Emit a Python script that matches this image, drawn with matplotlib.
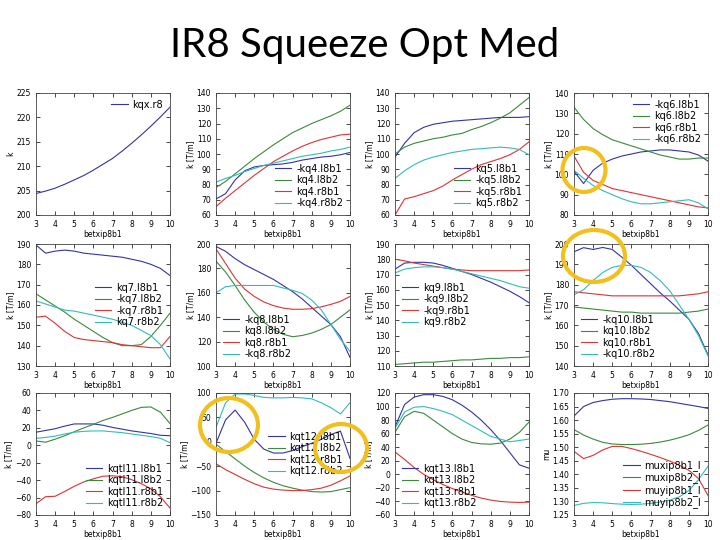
import matplotlib
matplotlib.use("Agg")
import matplotlib.pyplot as plt
from matplotlib.patches import Ellipse
from matplotlib.ticker import MultipleLocator

# betxip8b1 scan
betx = [3, 3.5, 4, 4.5, 5, 5.5, 6, 6.5, 7, 7.5, 8, 8.5, 9, 9.5, 10]

# kqx
kqx_r8 = [204.4, 204.9, 205.5, 206.3, 207.2, 208.1, 209.2, 210.4, 211.6, 213.1, 214.7, 216.4, 218.2, 220.1, 222.1]

# kq4
kq4_l8b1 = [70.5, 74, 83, 89, 91.5, 92.5, 93, 93.5, 94.5, 96, 97, 98, 98.5, 99.5, 101]
kq4_l8b2 = [78, 82, 87, 92, 97, 101.5, 106, 110, 114, 117, 120, 122.5, 125, 128, 132]
kq4_r8b1 = [65.5, 71, 76, 81, 86, 90.5, 95, 98.5, 102, 105, 107.5, 109.5, 111, 112.5, 113]
kq4_r8b2 = [81.5, 84, 86, 88.5, 90.5, 92.5, 94, 95.5, 97, 98.5, 99.5, 100.5, 102, 103, 104.5]

# kq5
kq5_l8b1 = [98, 107, 114, 117.5, 119.5, 120.5, 121.5, 122, 122.5, 123, 123.5, 124, 124, 124, 124.5]
kq5_l8b2 = [100, 104.5, 107, 108.5, 110, 111, 112.5, 113.5, 116, 118, 120.5, 123.5, 127, 132, 137]
kq5_r8b1 = [60, 70.5, 72, 74, 76, 79, 83, 86.5, 90, 93, 95, 97, 99.5, 103, 108]
kq5_r8b2 = [84, 89, 93, 96, 98, 99.5, 101, 102, 103, 103.5, 104, 104.5, 104, 103, 99.5]

# kq6
kq6_l8b1 = [101.5, 95.5, 102, 105.5, 107.5, 109, 110, 111, 111.5, 112, 112, 111.5, 111, 109.5, 106.5]
kq6_l8b2 = [133, 127, 122.5, 119.5, 117, 115.5, 114, 112.5, 111, 109.5, 108.5, 107.5, 107.5, 108, 108]
kq6_r8b1 = [109, 101, 97, 95, 93, 92, 91, 90, 89, 88, 87, 86, 85, 84, 83.5]
kq6_r8b2 = [102, 98, 94.5, 92, 90, 88, 86.5, 85.5, 85.5, 86, 86.5, 87, 87.5, 86, 83]

# kq7
kq7_l8b1 = [189.5, 185.5, 186.5, 187, 186.5, 185.5, 185, 184.5, 184, 183.5, 182.5, 181.5, 180, 178, 174.5]
kq7_l8b2 = [165.5, 162.5, 159.5, 156.5, 153, 150, 147, 144, 141.5, 140, 140, 140.5, 144.5, 150, 156]
kq7_r8b1 = [154, 154.5, 151, 147, 144, 143, 142.5, 142, 141.5, 140.5, 140, 139.5, 139, 139, 144.5]
kq7_r8b2 = [162, 160.5, 159, 157.5, 157, 156, 155, 154, 153, 151.5, 150, 147.5, 145, 140.5, 133.5]

# kq8
kq8_l8b1 = [198, 194, 188, 183, 179, 175, 171, 166, 161, 155, 148, 141, 134, 124, 107]
kq8_l8b2 = [186, 177, 166, 154, 144, 136, 130, 126, 124, 125, 127, 130, 134, 140, 146]
kq8_r8b1 = [196, 184, 172, 163, 157, 152.5, 149.5, 147.5, 146.5, 146.5, 147, 148.5, 150.5, 153, 157]
kq8_r8b2 = [160, 165, 166, 166, 166, 166, 166, 164, 162, 159.5, 154, 146, 134, 122, 112]

# kq9
kq9_l8b1 = [173.5, 177.5, 178, 178, 177.5, 176, 174, 172, 170, 167.5, 165, 162, 159, 155.5, 151.5]
kq9_l8b2 = [111, 111.5, 112, 112.5, 112.5, 113, 113.5, 114, 114, 114.5, 115, 115, 115.5, 115.5, 116]
kq9_r8b1 = [180, 179, 177.5, 176.5, 175.5, 174.5, 173.5, 173, 172.5, 172.5, 172.5, 172.5, 172.5, 172.5, 173]
kq9_r8b2 = [171, 173.5, 174.5, 175, 175, 174.5, 173.5, 172, 170.5, 169, 167.5, 166, 164, 162, 161]

# kq10
kq10_l8b1 = [196.2, 198.2, 197.3, 198.3, 197.3, 193.5, 189.5, 185, 180.5, 176, 172, 167.5, 163, 156, 145.5]
kq10_l8b2 = [169, 168.5, 168, 167.5, 167, 166.5, 166.5, 166, 166, 166, 166, 166, 166.5, 167, 168]
kq10_r8b1 = [176.5, 176, 175.5, 175, 174.5, 174.5, 174.5, 174.5, 174.5, 174.5, 174.5, 174.5, 175, 175.5, 176.5]
kq10_r8b2 = [175, 177.5, 182, 186, 188.5, 189.5, 189.5, 188.5, 186, 182, 177, 170, 163, 155, 145]

# kqtl11
kqtl11_l8b1 = [15, 17, 19, 22, 24.5, 24.5, 24.5, 23, 20.5, 18.5, 16.5, 15, 13.5, 11.5, 11]
kqtl11_l8b2 = [5, 3.5, 7, 11, 15.5, 20, 24, 28.5, 32, 36, 40, 43.5, 44, 38, 25]
kqtl11_r8b1 = [-67, -59, -58.5, -53, -47, -42, -38.5, -35.5, -35, -36, -39.5, -44, -50, -59, -72]
kqtl11_r8b2 = [8, 9, 10.5, 13, 15, 16, 16.5, 16.5, 15.5, 14.5, 13, 11.5, 10, 8, 3]

# kqt12
kqt12_l8b1 = [-3, 45, 65, 40, 5, -15, -23, -23, -18, -10, -3, 5, 15, 22, -34]
kqt12_l8b2 = [-5, -20, -35, -50, -63, -74, -83, -90, -95, -99, -102, -103, -102, -98, -94]
kqt12_r8b1 = [-45, -57, -67, -77, -86, -93, -97, -99, -100, -100, -98, -95, -89, -80, -70]
kqt12_r8b2 = [30, 80, 98, 98, 95, 91, 90, 90, 91, 90, 88, 80, 70, 57, 80]

# kqt13
kqt13_l8b1 = [70, 103, 114, 117.5, 117.5, 115, 110, 102, 92, 80, 66, 50, 32, 14, 9]
kqt13_l8b2 = [62, 85, 93, 90, 80, 70, 60, 52, 47, 45, 44.5, 46, 52, 62, 77]
kqt13_r8b1 = [33, 22, 10, 0, -8, -15, -21, -26, -31, -35, -38, -40, -41, -41.5, -41]
kqt13_r8b2 = [68, 92, 99, 100, 97, 93, 88, 80, 72, 64, 56, 52, 48, 50, 52]

# phase advance
muxip8b1_l = [1.615, 1.650, 1.665, 1.672, 1.677, 1.679, 1.679, 1.678, 1.676, 1.672, 1.668, 1.662, 1.656, 1.650, 1.643]
muxip8b2_l = [1.565, 1.545, 1.530, 1.518, 1.512, 1.510, 1.510, 1.511, 1.514, 1.519, 1.526, 1.535, 1.546, 1.562, 1.582]
muyip8b1_l = [1.485, 1.458, 1.470, 1.490, 1.503, 1.503, 1.495, 1.485, 1.474, 1.462, 1.449, 1.434, 1.415, 1.385, 1.322]
muyip8b2_l = [1.285, 1.293, 1.296, 1.295, 1.292, 1.290, 1.289, 1.290, 1.293, 1.298, 1.305, 1.317, 1.340, 1.380, 1.430]

colors = ['#3333aa', '#3a8a3a', '#dd3333', '#33bbbb']

fig = plt.figure(figsize=(7.2, 5.4), dpi=100)
fig.text(0.506, 0.915, 'IR8 Squeeze Opt Med', ha='center', va='center',
         fontsize=29, family=['Lato', 'DejaVu Sans'])

col_left = [36, 216, 395, 574]
row_top = [93, 244, 393]
W, H = 134, 122


def panel(r, c, series, labels, ylim, step, ylabel, loc):
    ax = fig.add_axes([col_left[c] / 720, 1 - (row_top[r] + H) / 540, W / 720, H / 540])
    for i, (s, lab) in enumerate(zip(series, labels)):
        ax.plot(betx, s, color=colors[i], lw=0.8, label=lab)
    ax.set_xlim(3, 10)
    ax.set_ylim(*ylim)
    ax.xaxis.set_major_locator(MultipleLocator(1))
    ax.yaxis.set_major_locator(MultipleLocator(step))
    ax.tick_params(direction='in', top=True, right=True, labelsize=5.5, length=3, width=0.5)
    for sp in ax.spines.values():
        sp.set_linewidth(0.6)
        sp.set_color('#444444')
    ax.set_xlabel('betxip8b1', fontsize=5.5, labelpad=1)
    ax.set_ylabel(ylabel, fontsize=5.5, labelpad=1)
    ax.legend(loc=loc, frameon=False, fontsize=7, handlelength=1.7, handletextpad=0.5,
              labelspacing=0.15, borderaxespad=0.3)
    return ax


panel(0, 0, [kqx_r8], ['kqx.r8'], (200, 225), 5, 'k', 'upper right')
panel(0, 1, [kq4_l8b1, kq4_l8b2, kq4_r8b1, kq4_r8b2],
      ['-kq4.l8b1', 'kq4.l8b2', 'kq4.r8b1', '-kq4.r8b2'], (60, 140), 10, 'k [T/m]', 'lower right')
panel(0, 2, [kq5_l8b1, kq5_l8b2, kq5_r8b1, kq5_r8b2],
      ['kq5.l8b1', '-kq5.l8b2', '-kq5.r8b1', 'kq5.r8b2'], (60, 140), 10, 'k [T/m]', 'lower right')
panel(0, 3, [kq6_l8b1, kq6_l8b2, kq6_r8b1, kq6_r8b2],
      ['-kq6.l8b1', 'kq6.l8b2', 'kq6.r8b1', '-kq6.r8b2'], (80, 140), 10, 'k [T/m]', 'upper right')
panel(1, 0, [kq7_l8b1, kq7_l8b2, kq7_r8b1, kq7_r8b2],
      ['kq7.l8b1', '-kq7.l8b2', '-kq7.r8b1', 'kq7.r8b2'], (130, 190), 10, 'k [T/m]', 'center right')
panel(1, 1, [kq8_l8b1, kq8_l8b2, kq8_r8b1, kq8_r8b2],
      ['-kq8.l8b1', 'kq8.l8b2', 'kq8.r8b1', '-kq8.r8b2'], (100, 200), 20, 'k [T/m]', 'lower left')
panel(1, 2, [kq9_l8b1, kq9_l8b2, kq9_r8b1, kq9_r8b2],
      ['kq9.l8b1', '-kq9.l8b2', '-kq9.r8b1', 'kq9.r8b2'], (110, 190), 10, 'k [T/m]', 'center left')
panel(1, 3, [kq10_l8b1, kq10_l8b2, kq10_r8b1, kq10_r8b2],
      ['-kq10.l8b1', 'kq10.l8b2', 'kq10.r8b1', '-kq10.r8b2'], (140, 200), 10, 'k [T/m]', 'lower left')
panel(2, 0, [kqtl11_l8b1, kqtl11_l8b2, kqtl11_r8b1, kqtl11_r8b2],
      ['kqtl11.l8b1', 'kqtl11.l8b2', 'kqtl11.r8b1', 'kqtl11.r8b2'], (-80, 60), 20, 'k [T/m]', 'lower right')
panel(2, 1, [kqt12_l8b1, kqt12_l8b2, kqt12_r8b1, kqt12_r8b2],
      ['kqt12.l8b1', 'kqt12.l8b2', 'kqt12.r8b1', 'kqt12.r8b2'], (-150, 100), 50, 'k [T/m]', 'center right')
panel(2, 2, [kqt13_l8b1, kqt13_l8b2, kqt13_r8b1, kqt13_r8b2],
      ['kqt13.l8b1', 'kqt13.l8b2', 'kqt13.r8b1', 'kqt13.r8b2'], (-60, 120), 20, 'k [T/m]', 'lower left')
panel(2, 3, [muxip8b1_l, muxip8b2_l, muyip8b1_l, muyip8b2_l],
      ['muxip8b1_l', 'muxip8b2_l', 'muyip8b1_l', 'muyip8b2_l'], (1.25, 1.70), 0.05, 'mu', 'lower right')

# yellow highlight circles drawn on the slide
over = fig.add_axes([0, 0, 1, 1], facecolor='none')
over.set_xlim(0, 720)
over.set_ylim(540, 0)
over.axis('off')
for cx, cy, w, h in [(584, 170, 43, 44), (594, 256, 62, 52), (229, 425, 58, 54), (341, 448, 52, 48)]:
    over.add_patch(Ellipse((cx, cy), w, h, fill=False, ec='#f2c01e', lw=3))

fig.savefig('out.png', dpi=100)
